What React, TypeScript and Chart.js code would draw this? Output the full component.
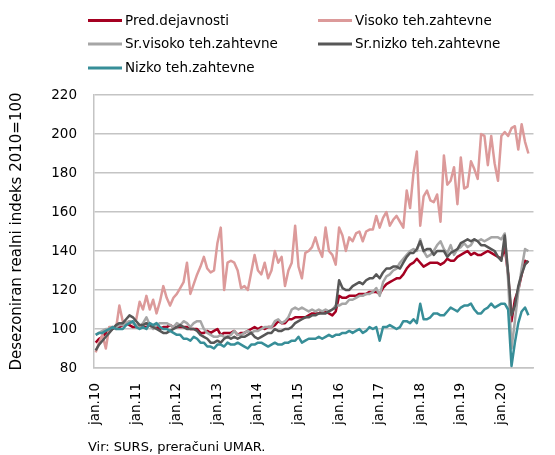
import { useEffect, useRef } from "react";
import { Chart, registerables } from "chart.js";

Chart.register(...registerables);

const MONTHS = ["jan", "feb", "mar", "apr", "maj", "jun", "jul", "avg", "sep", "okt", "nov", "dec"];
const YEARS = ["10", "11", "12", "13", "14", "15", "16", "17", "18", "19", "20"];
// monthly categories jan.10 ... okt.20
const categories: string[] = YEARS.flatMap((y) => MONTHS.map((m) => `${m}.${y}`)).slice(0, 130);

const seriesNames = [
  "Pred.dejavnosti",
  "Visoko teh.zahtevne",
  "Sr.visoko teh.zahtevne",
  "Sr.nizko teh.zahtevne",
  "Nizko teh.zahtevne",
];

const predDejavnosti = [
  93, 95, 96, 98, 99, 100, 101, 101, 102, 103, 102, 101,
  101, 102, 101, 101, 102, 101, 101, 100, 101, 101, 102, 101,
  101, 101, 101, 101, 100, 100, 100, 98, 98, 99, 98, 99,
  100, 97, 98, 98, 98, 99, 97, 98, 98, 99, 100, 101,
  100, 101, 100, 101, 101, 102, 104, 103, 103, 105, 105, 106,
  106, 106, 106, 107, 108, 108, 108, 109, 109, 108, 107, 109,
  117, 116, 116, 117, 117, 117, 118, 118, 118, 119, 119, 119,
  118, 121, 123, 124, 125, 126, 126, 128, 131, 133, 134, 136,
  134, 132, 133, 134, 134, 134, 133, 134, 136, 135, 135, 137,
  138, 139, 140, 138, 139, 138, 138, 139, 140, 139, 138, 137,
  136, 142, 128, 104, 115, 120, 128, 135, 134,
];

const visokoTeh = [
  88, 93, 97, 90, 101, 101, 100, 112, 104, 103, 104, 103,
  105, 114, 110, 117, 110, 115, 108, 114, 122, 116, 112, 116,
  118, 121, 124, 134, 118, 123, 128, 132, 137, 131, 129, 130,
  144, 152, 120, 134, 135, 134, 130, 121, 122, 120, 129, 138,
  130, 128, 134, 126, 130, 140, 134, 137, 122, 130, 134, 153,
  132, 126, 139, 140, 142, 147, 141, 137, 152, 140, 138, 133,
  152, 148, 140, 147, 145, 149, 150, 145, 150, 151, 151, 158,
  152, 157, 160, 153, 156, 158, 155, 152, 171, 162, 180, 191,
  153, 168, 171, 166, 165, 169, 155, 189, 174, 176, 183, 164,
  188, 172, 173, 186, 182, 177, 200, 199, 184, 199, 185, 176,
  199, 201, 199, 203, 204, 192, 205, 196, 190,
];

const srVisokoTeh = [
  97, 98, 99, 100, 100, 101, 101, 102, 102, 103, 104, 103,
  102, 101, 103, 106, 102, 100, 102, 103, 103, 103, 102, 101,
  103, 102, 104, 103, 101, 103, 104, 104, 100, 98, 97, 96,
  96, 97, 96, 96, 97, 99, 97, 97, 98, 99, 98, 99,
  99, 100, 101, 101, 101, 104, 105, 103, 104, 106, 110, 111,
  110, 111, 110, 109, 110, 109, 110, 109, 110, 109, 110, 112,
  112, 113, 113, 115, 115, 116, 117, 117, 118, 118, 119, 121,
  117, 124, 127, 128, 130, 131, 134, 136, 138, 140, 141, 140,
  146, 140, 137, 138, 140, 143, 145, 141, 139, 143, 138, 141,
  142, 144, 142, 143, 146, 145, 146, 145, 146, 147, 147, 147,
  146, 149, 125, 90, 104, 119, 131, 141, 140,
];

const srNizkoTeh = [
  89, 92, 94, 96, 98, 100, 102, 103, 103, 105, 107, 106,
  104, 102, 102, 103, 102, 101, 100, 99, 98, 98, 99, 100,
  101, 102, 101, 100, 100, 100, 99, 97, 96, 95, 93, 93,
  94, 93, 95, 96, 95, 96, 95, 96, 96, 97, 98, 96,
  95, 96, 97, 98, 98, 100, 99, 99, 100, 100, 101, 103,
  104, 105, 106, 106, 107, 107, 108, 108, 108, 109, 110, 111,
  125, 121, 120, 120, 122, 123, 124, 123, 125, 126, 126, 128,
  126, 129, 131, 131, 132, 132, 131, 134, 137, 139, 139, 141,
  145, 140, 141, 141, 138, 140, 140, 140, 137, 139, 140, 141,
  144, 145, 146, 145, 146, 145, 143, 143, 142, 141, 140, 137,
  135, 148, 129, 107, 112, 122, 128, 133, 135,
];

const nizkoTeh = [
  97, 98, 98, 99, 100, 101, 100, 100, 100, 102, 103, 104,
  101, 100, 101, 100, 103, 102, 103, 101, 100, 100, 99, 98,
  97, 97, 95, 95, 94, 96, 95, 93, 93, 91, 91, 90,
  92, 92, 91, 93, 92, 92, 93, 92, 91, 90, 92, 92,
  93, 93, 92, 91, 92, 93, 92, 92, 93, 93, 94, 94,
  96, 93, 94, 95, 95, 95, 96, 95, 96, 97, 96, 97,
  97, 98, 98, 99, 98, 99, 100, 98, 99, 101, 100, 101,
  94, 101, 101, 102, 101, 100, 101, 104, 104, 103, 105, 103,
  113, 105, 105, 106, 108, 108, 107, 107, 109, 111, 110, 109,
  111, 112, 112, 113, 110, 108, 108, 110, 111, 113, 111, 112,
  113, 113, 110, 81, 93, 103, 109, 111, 107,
];

const yTicks = [80, 100, 120, 140, 160, 180, 200, 220];
const yTitle = "Desezoniran realni indeks 2010=100";
const sourceText = "Vir: SURS, preračuni UMAR.";

const seriesValues = [predDejavnosti, visokoTeh, srVisokoTeh, srNizkoTeh, nizkoTeh];
const seriesColors = ["#a50021", "#dc9a9a", "#a6a6a6", "#575757", "#378e98"];

const FONT = "'DejaVu Sans', sans-serif";

const legendPlugin = {
  id: "customLegend",
  afterDraw(chart: any) {
    const ctx = chart.ctx as CanvasRenderingContext2D;
    const pos = [
      [88, 20.5],
      [318, 20.5],
      [88, 44],
      [318, 44],
      [88, 68],
    ];
    ctx.save();
    ctx.font = `13.5px ${FONT}`;
    ctx.textBaseline = "middle";
    ctx.textAlign = "left";
    chart.data.datasets.forEach((ds: any, i: number) => {
      const [x, y] = pos[i];
      ctx.strokeStyle = ds.borderColor;
      ctx.lineWidth = 3;
      ctx.beginPath();
      ctx.moveTo(x, y);
      ctx.lineTo(x + 34, y);
      ctx.stroke();
      ctx.fillStyle = "#000";
      ctx.fillText(ds.label, x + 37, y + 0.5);
    });
    ctx.font = `13px ${FONT}`;
    ctx.textBaseline = "alphabetic";
    ctx.fillStyle = "#000";
    ctx.fillText(sourceText, 88, 451);
    ctx.restore();
  },
};

export default function App() {
  const ref = useRef<HTMLCanvasElement | null>(null);

  useEffect(() => {
    if (!ref.current) return;
    const chart = new Chart(ref.current, {
      type: "line",
      data: {
        labels: categories,
        datasets: seriesNames.map((name, i) => ({
          label: name,
          data: seriesValues[i],
          borderColor: seriesColors[i],
          backgroundColor: seriesColors[i],
          borderWidth: 2.5,
          pointRadius: 0,
          tension: 0,
          fill: false,
          borderJoinStyle: "round" as const,
          order: 4 - i,
        })),
      },
      options: {
        animation: false,
        responsive: false,
        devicePixelRatio: 1,
        layout: { padding: { top: 95, right: 2, left: 0, bottom: 0 } },
        plugins: {
          legend: { display: false },
          tooltip: { enabled: false },
        },
        scales: {
          x: {
            type: "category",
            offset: true,
            grid: { display: false },
            border: { display: true, color: "#c4c4c4", width: 1.5 },
            ticks: {
              autoSkip: false,
              maxRotation: 90,
              minRotation: 90,
              padding: 7,
              color: "#000",
              font: { family: FONT, size: 13.5 },
              callback: (_v: any, i: number) => (i % 12 === 0 ? categories[i] : ""),
            },
            afterFit: (s: any) => {
              s.height = 87;
            },
          },
          y: {
            min: yTicks[0],
            max: yTicks[yTicks.length - 1],
            afterBuildTicks: (s: any) => {
              s.ticks = yTicks.map((v) => ({ value: v }));
            },
            ticks: {
              padding: 17,
              color: "#000",
              font: { family: FONT, size: 13.5 },
            },
            grid: { color: "#c4c4c4", lineWidth: 1.5, drawTicks: false },
            border: { display: true, color: "#c4c4c4", width: 1.5 },
            title: {
              display: true,
              text: yTitle,
              color: "#000",
              font: { family: FONT, size: 15 },
              padding: { top: 8, bottom: 0 },
            },
            afterFit: (s: any) => {
              s.width = 94;
            },
          },
        },
      },
      plugins: [legendPlugin],
    });
    return () => chart.destroy();
  }, []);

  return (
    <div style={{ position: "absolute", left: 0, top: 0, width: 555, height: 455, background: "#fff" }}>
      <canvas ref={ref} width={555} height={455} style={{ width: 555, height: 455, display: "block" }} />
    </div>
  );
}
